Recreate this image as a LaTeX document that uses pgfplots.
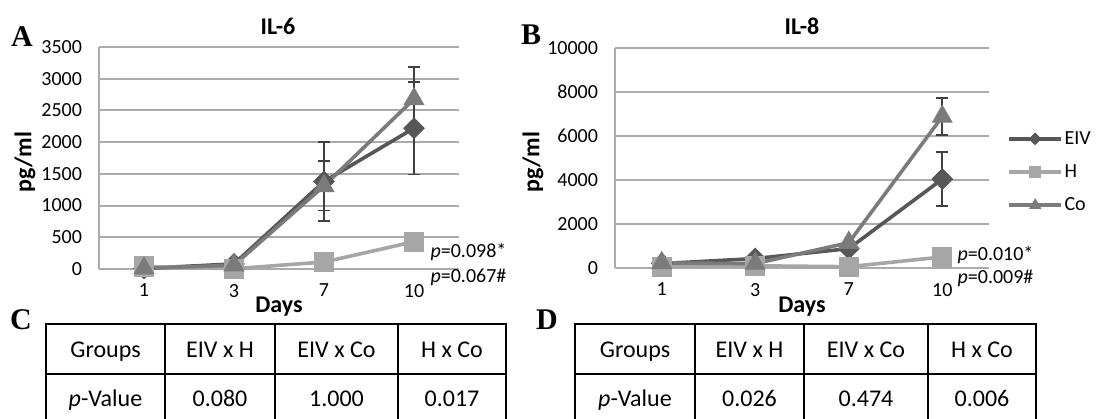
\documentclass[border=0pt]{standalone}
\usepackage{pgfplots}
\pgfplotsset{compat=1.18}
\usepackage{fontspec}
\setmainfont{Carlito}
\newfontfamily\letfont{Liberation Serif}

\definecolor{eiv}{HTML}{575757}
\definecolor{hh}{HTML}{A6A6A6}
\definecolor{co}{HTML}{7B7B7B}
\definecolor{gridc}{HTML}{ABABAB}
\definecolor{errc}{HTML}{404040}

\pgfplotsset{
  ilstyle/.style={
    scale only axis,
    axis lines=left,
    axis line style={-, gridc, line width=1pt},
    ymajorgrids,
    grid style={gridc, line width=1pt},
    major tick length=0pt,
    xmin=0, xmax=4,
    xtick={0.5,1.5,2.5,3.5},
    xticklabels={1,3,7,10},
    tick label style={font=\fontsize{10}{12}\selectfont},
    xticklabel style={yshift=-4pt},
    yticklabel style={xshift=-5pt},
    /pgf/number format/assume math mode=true,
    /pgf/number format/1000 sep={},
    scaled y ticks=false,
    clip=false,
    legend image code/.code={\draw[mark repeat=2,mark phase=2,##1,every mark/.append style={scale=0.55}] plot coordinates {(0pt,0pt) (13pt,0pt) (26pt,0pt)};},
  },
  errs/.style={
    error bars/.cd, y dir=both, y explicit,
    error bar style={errc, line width=0.8pt},
    error mark options={rotate=90, mark size=3pt, errc, line width=0.8pt},
  },
  eivs/.style={eiv, line width=1.8pt, mark=square*, mark size=3.6pt, mark options={solid, fill=eiv, draw=eiv, line width=0.5pt, rotate=45}},
  hs/.style={hh, line width=1.8pt, mark=square*, mark size=4.8pt, mark options={solid, fill=hh, draw=hh, line width=0.5pt}},
  cos/.style={co, line width=1.8pt, mark=triangle*, mark size=5.6pt, mark options={solid, fill=co, draw=co, line width=0.5pt}},
}

\begin{document}
\begin{tikzpicture}
\useasboundingbox (0,0) rectangle (548pt,209pt);

% A: IL-6
\begin{axis}[ilstyle,
  at={(49.5pt,74.5pt)}, anchor=south west,
  width=180pt, height=111pt,
  ymin=0, ymax=3500, ytick={0,500,...,3500}]
\addplot[eivs, errs] coordinates {
  (0.5,10) +- (0,0) (1.5,80) +- (0,0) (2.5,1380) +- (0,620) (3.5,2220) +- (0,730)};
\addplot[hs] coordinates {(0.5,40) (1.5,5) (2.5,110) (3.5,430)};
\addplot[cos, errs] coordinates {
  (0.5,10) +- (0,0) (1.5,60) +- (0,0) (2.5,1310) +- (0,390) (3.5,2680) +- (0,500)};
\node[anchor=west, inner sep=0pt, font=\fontsize{10}{12}\selectfont] at (axis cs:3.68,268) {\textit{p}=0.098*};
\node[anchor=west, inner sep=0pt, font=\fontsize{10}{12}\selectfont] at (axis cs:3.68,-126) {\textit{p}=0.067\#};
\end{axis}

% B: IL-8
\begin{axis}[ilstyle,
  at={(307.5pt,75pt)}, anchor=south west,
  width=187pt, height=110pt,
  ymin=0, ymax=10000, ytick={0,2000,...,10000},
  legend style={at={(1.048,0.436)}, anchor=west, draw=none, fill=none, inner sep=0pt,
    font=\fontsize{10}{12}\selectfont, row sep=6.5pt,
    nodes={text height=7pt, text depth=1.5pt, inner sep=0.8pt}},
  legend cell align=left]
\addplot[eivs, errs] coordinates {
  (0.5,200) +- (0,0) (1.5,430) +- (0,0) (2.5,880) +- (0,0) (3.5,4040) +- (0,1220)};
\addlegendentry{EIV}
\addplot[hs] coordinates {(0.5,60) (1.5,100) (2.5,60) (3.5,500)};
\addlegendentry{H}
\addplot[cos, errs] coordinates {
  (0.5,230) +- (0,0) (1.5,200) +- (0,0) (2.5,1150) +- (0,0) (3.5,6880) +- (0,840)};
\addlegendentry{Co}
\node[anchor=west, inner sep=0pt, font=\fontsize{10}{12}\selectfont] at (axis cs:3.66,591) {\textit{p}=0.010*};
\node[anchor=west, inner sep=0pt, font=\fontsize{10}{12}\selectfont] at (axis cs:3.66,-455) {\textit{p}=0.009\#};
\end{axis}

% titles and axis labels
\node[font=\fontsize{12}{14}\selectfont\bfseries] at (139pt,196pt) {IL-6};
\node[font=\fontsize{12}{14}\selectfont\bfseries] at (401pt,196pt) {IL-8};
\node[font=\fontsize{12}{14}\selectfont\bfseries, rotate=90] at (12.5pt,128pt) {pg/ml};
\node[font=\fontsize{12}{14}\selectfont\bfseries, rotate=90] at (266.5pt,128pt) {pg/ml};
\node[font=\fontsize{12}{14}\selectfont\bfseries] at (139.5pt,55.5pt) {Days};
\node[font=\fontsize{12}{14}\selectfont\bfseries] at (401pt,55.5pt) {Days};

% panel letters
\node[font=\fontsize{15}{17}\selectfont\letfont\bfseries] at (11pt,190.5pt) {A};
\node[font=\fontsize{15}{17}\selectfont\letfont\bfseries] at (265.5pt,191.5pt) {B};
\node[font=\fontsize{15}{17}\selectfont\letfont\bfseries] at (10.5pt,49pt) {C};
\node[font=\fontsize{15}{17}\selectfont\letfont\bfseries] at (273.5pt,49pt) {D};

% table C
\draw[line width=1pt] (23pt,47pt) rectangle (253pt,-4.5pt);
\draw[line width=1pt] (23pt,22pt) -- (253pt,22pt);
\foreach \xx in {82.5,137.5,199} \draw[line width=1pt] (\xx pt,47pt) -- (\xx pt,-4.5pt);
\begin{scope}[every node/.style={anchor=base, font=\fontsize{12}{14}\selectfont}]
\node at (52.75pt,30.2pt) {Groups};
\node at (110pt,30.2pt) {EIV x H};
\node at (168.25pt,30.2pt) {EIV x Co};
\node at (226pt,30.2pt) {H x Co};
\node at (52.75pt,5.7pt) {\textit{p}-Value};
\node at (110pt,5.7pt) {0.080};
\node at (168.25pt,5.7pt) {1.000};
\node at (226pt,5.7pt) {0.017};
\end{scope}

% table D
\draw[line width=1pt] (287.5pt,47pt) rectangle (518pt,-4.5pt);
\draw[line width=1pt] (287.5pt,22pt) -- (518pt,22pt);
\foreach \xx in {347.5,402,464} \draw[line width=1pt] (\xx pt,47pt) -- (\xx pt,-4.5pt);
\begin{scope}[every node/.style={anchor=base, font=\fontsize{12}{14}\selectfont}]
\node at (317.5pt,30.2pt) {Groups};
\node at (374.75pt,30.2pt) {EIV x H};
\node at (433pt,30.2pt) {EIV x Co};
\node at (491pt,30.2pt) {H x Co};
\node at (317.5pt,5.7pt) {\textit{p}-Value};
\node at (374.75pt,5.7pt) {0.026};
\node at (433pt,5.7pt) {0.474};
\node at (491pt,5.7pt) {0.006};
\end{scope}
\end{tikzpicture}
\end{document}
